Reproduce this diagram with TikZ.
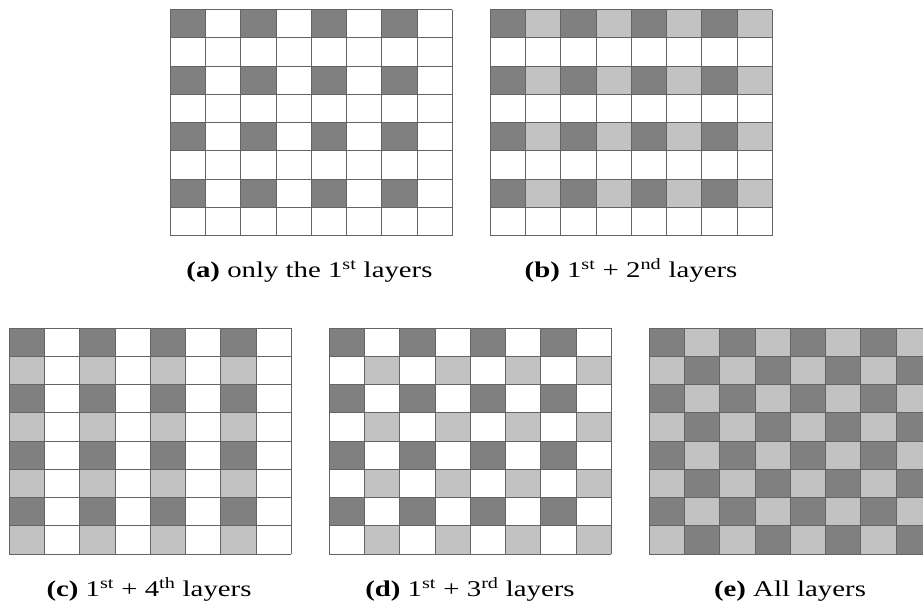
\documentclass[tikz,border=0pt]{standalone}
\usepackage{fontspec}
\setmainfont{Liberation Serif}
\usepackage{tikz}
\usetikzlibrary{positioning}
\definecolor{cellgray}{RGB}{128, 128, 128}
\definecolor{celllight}{RGB}{194, 194, 194}
\definecolor{gridline}{RGB}{100, 100, 100}

\tikzset{
  darkcell/.style={fill=cellgray},
  lightcell/.style={fill=celllight},
  gridlines/.style={draw=gridline, line width=0.7pt},
  caption/.style={anchor=base, xscale=1.28, font=\fontsize{22.5}{26}\selectfont},
  panel/.style={x=35.3pt, y=-28.25pt}
}

\begin{document}
\begin{tikzpicture}[x=1pt, y=-1pt]
    \useasboundingbox (0,0) rectangle (923,603);
    \clip (0,0) rectangle (923,603);

    % (a) only the 1st layers
    \begin{scope}[shift={(170,9.5)}, panel]
        \foreach \r in {0,2,4,6} \foreach \c in {0,2,4,6}
            \fill[darkcell] (\c,\r) rectangle ++(1,1);
        \foreach \i in {0,...,8} {
            \draw[gridlines] (\i,0) -- (\i,8);
            \draw[gridlines] (0,\i) -- (8,\i);
        }
    \end{scope}
    \node[caption] (capa) at (309.5,277) {\textbf{(a)} only the 1\textsuperscript{st} layers};

    % (b) 1st + 2nd layers
    \begin{scope}[shift={(490,9.5)}, panel]
        \foreach \r in {0,2,4,6} \foreach \c in {0,2,4,6}
            \fill[darkcell] (\c,\r) rectangle ++(1,1);
        \foreach \r in {0,2,4,6} \foreach \c in {1,3,5,7}
            \fill[lightcell] (\c,\r) rectangle ++(1,1);
        \foreach \i in {0,...,8} {
            \draw[gridlines] (\i,0) -- (\i,8);
            \draw[gridlines] (0,\i) -- (8,\i);
        }
    \end{scope}
    \node[caption] (capb) at (631,277) {\textbf{(b)} 1\textsuperscript{st} + 2\textsuperscript{nd} layers};

    % (c) 1st + 4th layers
    \begin{scope}[shift={(9,328)}, panel]
        \foreach \r in {0,2,4,6} \foreach \c in {0,2,4,6}
            \fill[darkcell] (\c,\r) rectangle ++(1,1);
        \foreach \r in {1,3,5,7} \foreach \c in {0,2,4,6}
            \fill[lightcell] (\c,\r) rectangle ++(1,1);
        \foreach \i in {0,...,8} {
            \draw[gridlines] (\i,0) -- (\i,8);
            \draw[gridlines] (0,\i) -- (8,\i);
        }
    \end{scope}
    \node[caption] (capc) at (149,596) {\textbf{(c)} 1\textsuperscript{st} + 4\textsuperscript{th} layers};

    % (d) 1st + 3rd layers
    \begin{scope}[shift={(329,328)}, panel]
        \foreach \r in {0,2,4,6} \foreach \c in {0,2,4,6}
            \fill[darkcell] (\c,\r) rectangle ++(1,1);
        \foreach \r in {1,3,5,7} \foreach \c in {1,3,5,7}
            \fill[lightcell] (\c,\r) rectangle ++(1,1);
        \foreach \i in {0,...,8} {
            \draw[gridlines] (\i,0) -- (\i,8);
            \draw[gridlines] (0,\i) -- (8,\i);
        }
    \end{scope}
    \node[caption] (capd) at (470,596) {\textbf{(d)} 1\textsuperscript{st} + 3\textsuperscript{rd} layers};

    % (e) All layers
    \begin{scope}[shift={(649,328)}, panel]
        \foreach \r in {0,2,4,6} \foreach \c in {0,2,4,6} {
            \fill[darkcell] (\c,\r) rectangle ++(1,1);
            \fill[darkcell] (\c+1,\r+1) rectangle ++(1,1);
            \fill[lightcell] (\c+1,\r) rectangle ++(1,1);
            \fill[lightcell] (\c,\r+1) rectangle ++(1,1);
        }
        \foreach \i in {0,...,8} {
            \draw[gridlines] (\i,0) -- (\i,8);
            \draw[gridlines] (0,\i) -- (8,\i);
        }
    \end{scope}
    \node[caption] (cape) at (790,596) {\textbf{(e)} All layers};
\end{tikzpicture}
\end{document}
